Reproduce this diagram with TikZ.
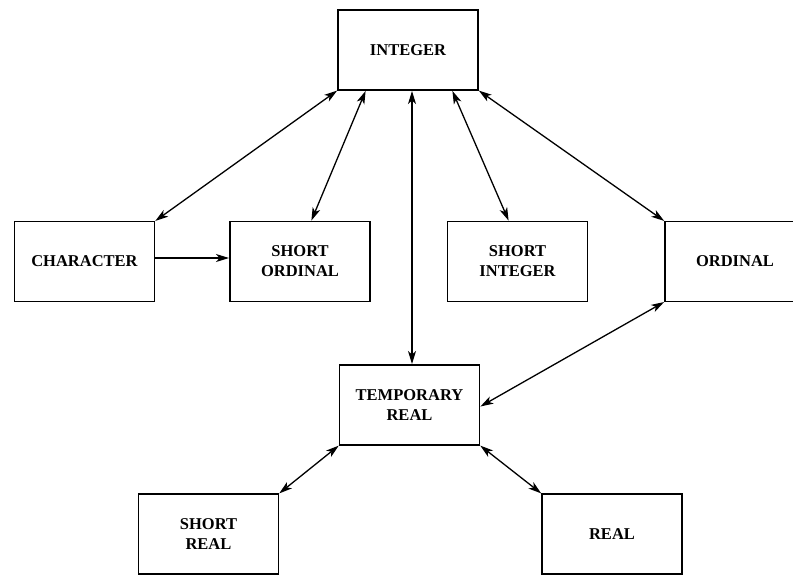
\documentclass[tikz,border=0pt]{standalone}
\usepackage{fontspec}
\setmainfont{Liberation Serif}
\usetikzlibrary{arrows.meta}
\tikzset{
% Boxes for the data types and the lines between them
type box/.style={draw,line width=1.5pt,minimum width=140pt,minimum height=80pt,
  align=center,outer sep=0pt,inner sep=2pt},
conv/.style={line width=1.3pt,{Stealth[length=13pt,width=8pt,inset=3.5pt]}-{Stealth[length=13pt,width=8pt,inset=3.5pt]},shorten <=1pt,shorten >=1pt},
oneway/.style={line width=1.3pt,-{Stealth[length=13pt,width=8pt,inset=3.5pt]},shorten >=1pt}
}

\begin{document}
\begin{tikzpicture}[x=1pt,y=1pt,font=\bfseries\fontsize{16.5}{20}\selectfont]
      \useasboundingbox (0,0) rectangle (793,-574);
      \clip (0,0) rectangle (793,-574);
      % Top of the lattice
      \node[type box] (integer) at (408,-50) {INTEGER};
      % Middle row
      \node[type box] (character) at (84.5,-261.5) {CHARACTER};
      \node[type box] (shortord) at (300,-261.5) {SHORT\\ORDINAL};
      \node[type box] (shortint) at (517.5,-261.5) {SHORT\\INTEGER};
      \node[type box] (ordinal) at (735,-261.5) {ORDINAL};
      % Real types
      \node[type box] (tempreal) at (409.5,-405) {TEMPORARY\\REAL};
      \node[type box] (shortreal) at (208.5,-534) {SHORT\\REAL};
      \node[type box] (real) at (612,-534) {REAL};
      % Conversions from INTEGER
      \draw[conv] (integer.south west) -- (character.north east);
      \draw[conv] ([xshift=28pt]integer.south west) -- ([xshift=11pt]shortord.north);
      \draw[conv] ([xshift=4pt]integer.south) -- ([xshift=2.5pt]tempreal.north);
      \draw[conv] ([xshift=-26pt]integer.south east) -- ([xshift=-8.5pt]shortint.north);
      \draw[conv] (integer.south east) -- (ordinal.north west);
      % Character only goes one way
      \draw[oneway] ([yshift=3.5pt]character.east) -- ([yshift=3.5pt]shortord.west);
      % Conversions around TEMPORARY REAL
      \draw[conv] (ordinal.south west) -- ([yshift=-2pt]tempreal.east);
      \draw[conv] (tempreal.south west) -- (shortreal.north east);
      \draw[conv] (tempreal.south east) -- (real.north west);
    \end{tikzpicture}
\end{document}
